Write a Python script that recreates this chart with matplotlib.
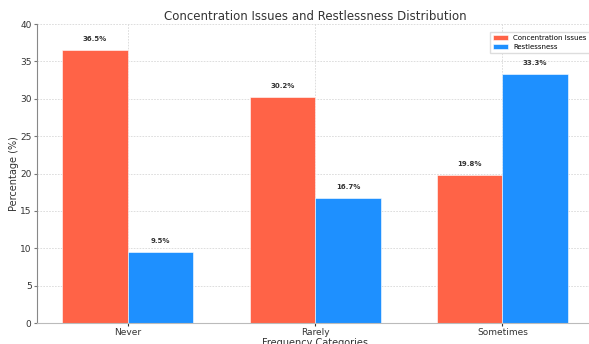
import numpy as np
import matplotlib.pyplot as plt

# survey answers (percent of respondents)
categories = ['Never', 'Rarely', 'Sometimes']
concentration = [36.5, 30.2, 19.8]
restlessness = [9.5, 16.7, 33.3]

x = np.arange(len(categories))
width = 0.35

fig = plt.figure(figsize=(5.89, 3.44), dpi=100)
ax = fig.add_axes([0.063, 0.061, 0.944, 0.869])

b1 = ax.bar(x - width/2, concentration, width, color='tomato', label='Concentration Issues',
            edgecolor='white', linewidth=0.4)
b2 = ax.bar(x + width/2, restlessness, width, color='dodgerblue', label='Restlessness',
            edgecolor='white', linewidth=0.4)

# value labels above each bar
for bars in (b1, b2):
    for b in bars:
        h = b.get_height()
        ax.annotate(f'{h:.1f}%', xy=(b.get_x() + b.get_width()/2, h),
                    xytext=(0, 6), textcoords='offset points',
                    ha='center', va='bottom', fontsize=5, fontweight='bold', color='#333333')

ax.set_ylim(0, 40)
ax.set_xticks(x)
ax.set_xticklabels(categories, fontsize=6.5, color='#333333')
ax.tick_params(axis='y', labelsize=6.5, labelcolor='#333333', length=2, color='#777777', pad=2)
ax.tick_params(axis='x', length=2, color='#333333', pad=1.5)
ax.grid(True, color='#d8d8d8', linestyle=(0, (2, 1.5)), linewidth=0.6)
ax.set_axisbelow(True)
for s in ['top', 'right']:
    ax.spines[s].set_visible(False)
ax.spines['left'].set_color('#888888')
ax.spines['bottom'].set_color('#bbbbbb')

ax.set_title('Concentration Issues and Restlessness Distribution', fontsize=8.5,
             color='#333333', pad=3)
ax.set_xlabel('Frequency Categories', fontsize=7, color='#333333', labelpad=1)
ax.set_ylabel('Percentage (%)', fontsize=7, color='#333333')
ax.yaxis.set_label_coords(-0.032, 0.5)
ax.legend(fontsize=5, loc='upper right', bbox_to_anchor=(1.0, 0.985), handlelength=2.2,
          framealpha=1, edgecolor='#dddddd', fancybox=False)

fig.savefig('out.png', dpi=100)
